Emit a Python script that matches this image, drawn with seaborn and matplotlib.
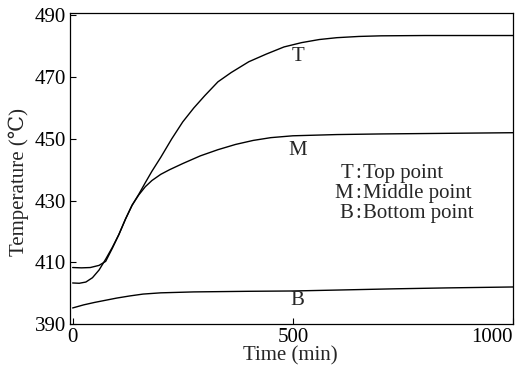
import numpy as np
import pandas as pd
import matplotlib
matplotlib.use("Agg")
import matplotlib.pyplot as plt
import seaborn as sns

# Data
t_top = [0, 20, 40, 60, 75, 90, 105, 120, 135, 150, 165, 180, 200, 225, 250, 275, 300,
         330, 360, 400, 440, 480, 520, 560, 600, 650, 700, 800, 900, 1000]
temp_top = [408.3, 408.2, 408.3, 409.0, 410.3, 414.5, 419.0, 424.0, 428.5, 432.0, 435.8, 439.5,
            444.0, 450.0, 455.5, 460.0, 464.0, 468.5, 471.5, 475.0, 477.5, 479.8, 481.2,
            482.2, 482.8, 483.2, 483.4, 483.5, 483.5, 483.5]

t_mid = [0, 15, 30, 45, 60, 75, 90, 105, 120, 135, 150, 165, 180, 200, 220, 250, 290,
         330, 370, 410, 450, 500, 600, 700, 850, 1000]
temp_mid = [403.3, 403.2, 403.6, 405.0, 407.5, 411.0, 414.8, 419.0, 424.0, 428.5, 431.8,
            434.5, 436.5, 438.5, 440.0, 442.0, 444.5, 446.5, 448.2, 449.5, 450.4, 451.0,
            451.4, 451.6, 451.8, 452.0]

t_bot = [0, 25, 50, 75, 100, 130, 160, 200, 275, 400, 500, 600, 730, 850, 1000]
temp_bot = [395.2, 396.2, 397.0, 397.7, 398.4, 399.1, 399.7, 400.1, 400.4, 400.6, 400.7,
            401.0, 401.4, 401.7, 402.0]

series_names = ["T", "M", "B"]
legend_lines = ["Top point", "Middle point", "Bottom point"]
x_ticks = [0, 500, 1000]
y_ticks = [390, 410, 430, 450, 470, 490]

df = pd.concat([
    pd.DataFrame({"time": t_top, "temp": temp_top, "series": "T"}),
    pd.DataFrame({"time": t_mid, "temp": temp_mid, "series": "M"}),
    pd.DataFrame({"time": t_bot, "temp": temp_bot, "series": "B"}),
])

sns.set_style("ticks")
plt.rcParams["font.family"] = ["Liberation Serif", "DejaVu Serif"]

fig = plt.figure(figsize=(5.16, 3.68), dpi=100)
ax = fig.add_axes([70 / 516, 1 - 324 / 368, (513 - 70) / 516, (324 - 13) / 368])

for name in series_names:
    sub = df[df["series"] == name]
    sns.lineplot(data=sub, x="time", y="temp", ax=ax, color="black", lw=1.0,
                 estimator=None, sort=False)

ax.set_xlim(-6, 1000)
ax.set_ylim(390, 490.8)
ax.set_xticks(x_ticks)
ax.set_yticks(y_ticks)
ax.tick_params(direction="in", length=4, width=0.8, labelsize=15, pad=3, colors="black")
for s in ax.spines.values():
    s.set_visible(True)
    s.set_color("black")
    s.set_linewidth(0.9)

labels = ax.get_xticklabels()
labels[-1].set_horizontalalignment("right")

ax.set_xlabel("Time (min)", fontsize=15)
ax.set_ylabel("Temperature (℃)", fontsize=15)
ax.xaxis.set_label_coords(0.498, -0.072)
ax.yaxis.set_label_coords(-0.093, 0.455)

# Curve labels
ax.text(512, 476.7, "T", fontsize=15, ha="center", va="center")
ax.text(510, 446.2, "M", fontsize=15, ha="center", va="center")
ax.text(510, 397.5, "B", fontsize=15, ha="center", va="center")

# Key text
for i, (k, desc) in enumerate(zip(series_names, legend_lines)):
    y = 438.7 - i * 6.5
    ax.text(637, y, k, fontsize=15, ha="right", va="center")
    ax.text(648, y, ":", fontsize=15, ha="center", va="center")
    ax.text(660, y, desc, fontsize=15, ha="left", va="center")

fig.savefig("out.png", dpi=100)
